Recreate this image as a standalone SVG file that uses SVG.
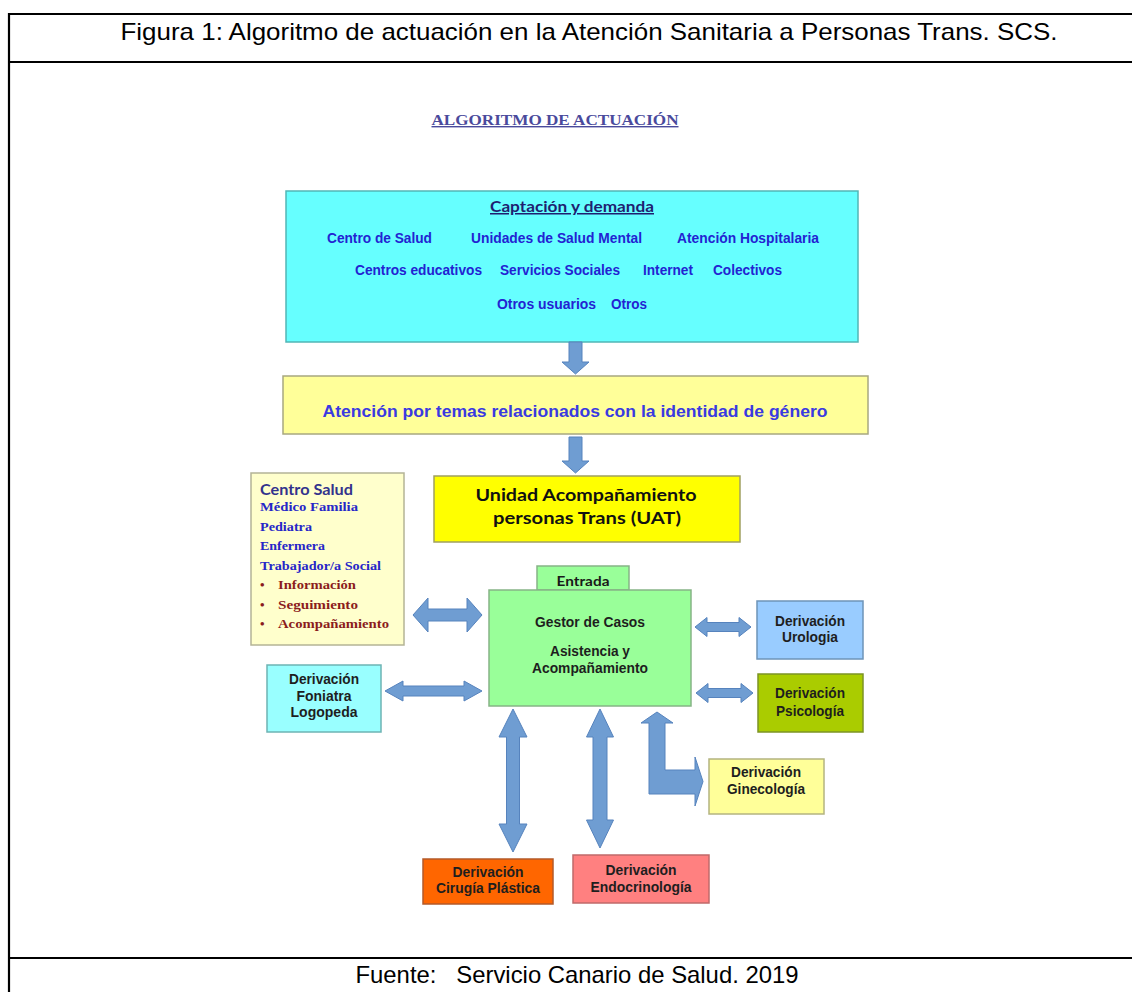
<svg xmlns="http://www.w3.org/2000/svg" width="1132" height="992" viewBox="0 0 1132 992">
<style>
.frame{stroke:#000;stroke-width:2.2;fill:none}
.cap{font-family:"Liberation Sans",Arial,sans-serif;font-size:24px;fill:#000;text-anchor:middle}
.box{stroke-width:1.5}
.arr{fill:#6f9dd2;stroke:#5683bd;stroke-width:1}
.cy{font-family:"Liberation Sans",Arial,sans-serif;font-weight:bold;font-size:14px;fill:#2323d2}
.dv{font-family:"Liberation Sans",Arial,sans-serif;font-weight:bold;font-size:14px;fill:#1e1e1e;text-anchor:middle}
.cal{font-family:Lato,"Liberation Sans",sans-serif;font-weight:bold}
.ser{font-family:"Liberation Serif","Times New Roman",serif;font-weight:bold;font-size:13px}
</style>
<rect x="0" y="0" width="1132" height="992" fill="#fff"/>
<g id="frame">
<line class="frame" x1="8" y1="14" x2="1132" y2="14"/>
<line class="frame" x1="8" y1="62" x2="1132" y2="62"/>
<line class="frame" x1="8" y1="958" x2="1132" y2="958"/>
<line class="frame" x1="9" y1="13" x2="9" y2="992"/>
<text class="cap" x="589" y="40" textLength="937" lengthAdjust="spacingAndGlyphs">Figura 1: Algoritmo de actuación en la Atención Sanitaria a Personas Trans. SCS.</text>
<text class="cap" x="577" y="983" textLength="443" lengthAdjust="spacingAndGlyphs" xml:space="preserve">Fuente:   Servicio Canario de Salud. 2019</text>
</g>
<g id="heading">
<text x="555" y="125" text-anchor="middle" font-family="Liberation Serif,serif" font-weight="bold" font-size="14" fill="#4a4a9c" text-decoration="underline" textLength="247" lengthAdjust="spacingAndGlyphs">ALGORITMO DE ACTUACIÓN</text>
</g>
<g id="captacion">
<rect class="box" x="286" y="191" width="572" height="151" fill="#66ffff" stroke="#52b6b6"/>
<text class="cal" x="572" y="212" font-size="15" fill="#1f1f70" text-anchor="middle" text-decoration="underline" textLength="164" lengthAdjust="spacingAndGlyphs">Captación y demanda</text>
<text class="cy" x="327" y="243" textLength="105" lengthAdjust="spacingAndGlyphs">Centro de Salud</text>
<text class="cy" x="471" y="243" textLength="171" lengthAdjust="spacingAndGlyphs">Unidades de Salud Mental</text>
<text class="cy" x="677" y="243" textLength="142" lengthAdjust="spacingAndGlyphs">Atención Hospitalaria</text>
<text class="cy" x="355" y="275" textLength="127" lengthAdjust="spacingAndGlyphs">Centros educativos</text>
<text class="cy" x="500" y="275" textLength="120" lengthAdjust="spacingAndGlyphs">Servicios Sociales</text>
<text class="cy" x="643" y="275" textLength="50" lengthAdjust="spacingAndGlyphs">Internet</text>
<text class="cy" x="713" y="275" textLength="69" lengthAdjust="spacingAndGlyphs">Colectivos</text>
<text class="cy" x="497" y="309" textLength="99" lengthAdjust="spacingAndGlyphs">Otros usuarios</text>
<text class="cy" x="611" y="309" textLength="36" lengthAdjust="spacingAndGlyphs">Otros</text>
</g>
<g id="atencion">
<rect class="box" x="283" y="376" width="585" height="58" fill="#ffff99" stroke="#a8a880"/>
<text x="575" y="417" text-anchor="middle" font-family="Liberation Sans,Arial,sans-serif" font-weight="bold" font-size="17" fill="#3a3ae0" textLength="505" lengthAdjust="spacingAndGlyphs">Atención por temas relacionados con la identidad de género</text>
</g>
<g id="uat">
<rect class="box" x="434" y="476" width="306" height="66" fill="#ffff00" stroke="#a0a060"/>
<text class="cal" x="586" y="501" font-size="17" fill="#111" text-anchor="middle" textLength="221" lengthAdjust="spacingAndGlyphs">Unidad Acompañamiento</text>
<text class="cal" x="587" y="524" font-size="17" fill="#111" text-anchor="middle" textLength="188" lengthAdjust="spacingAndGlyphs">personas Trans (UAT)</text>
</g>
<g id="centro-salud">
<rect class="box" x="251" y="473" width="153" height="172" fill="#ffffcc" stroke="#b4b496"/>
<text class="cal" x="260" y="495" font-size="15" fill="#33338c" textLength="93" lengthAdjust="spacingAndGlyphs">Centro Salud</text>
<text class="ser" x="260" y="511" fill="#2626c8" textLength="98" lengthAdjust="spacingAndGlyphs">Médico Familia</text>
<text class="ser" x="260" y="531" fill="#2626c8" textLength="52" lengthAdjust="spacingAndGlyphs">Pediatra</text>
<text class="ser" x="260" y="550" fill="#2626c8" textLength="65" lengthAdjust="spacingAndGlyphs">Enfermera</text>
<text class="ser" x="260" y="570" fill="#2626c8" textLength="121" lengthAdjust="spacingAndGlyphs">Trabajador/a Social</text>
<text class="ser" x="260" y="589" fill="#8b1c1c">•</text>
<text class="ser" x="278" y="589" fill="#8b1c1c" textLength="78" lengthAdjust="spacingAndGlyphs">Información</text>
<text class="ser" x="260" y="609" fill="#8b1c1c">•</text>
<text class="ser" x="278" y="609" fill="#8b1c1c" textLength="80" lengthAdjust="spacingAndGlyphs">Seguimiento</text>
<text class="ser" x="260" y="628" fill="#8b1c1c">•</text>
<text class="ser" x="278" y="628" fill="#8b1c1c" textLength="111" lengthAdjust="spacingAndGlyphs">Acompañamiento</text>
</g>
<g id="entrada">
<rect class="box" x="537" y="566" width="92" height="24" fill="#99ff99" stroke="#86b486"/>
<text class="cal" x="583" y="586" font-size="14" fill="#1a1a1a" text-anchor="middle" textLength="53" lengthAdjust="spacingAndGlyphs">Entrada</text>
</g>
<g id="gestor">
<rect class="box" x="489" y="590" width="202" height="116" fill="#99ff99" stroke="#86b486"/>
<text class="dv" x="590" y="627" textLength="110" lengthAdjust="spacingAndGlyphs">Gestor de Casos</text>
<text class="dv" x="590" y="656" textLength="80" lengthAdjust="spacingAndGlyphs">Asistencia y</text>
<text class="dv" x="590" y="673" textLength="116" lengthAdjust="spacingAndGlyphs">Acompañamiento</text>
</g>
<g id="urologia">
<rect class="box" x="757" y="601" width="106" height="58" fill="#99ccff" stroke="#6e94b8"/>
<text class="dv" x="810" y="626" textLength="70" lengthAdjust="spacingAndGlyphs">Derivación</text>
<text class="dv" x="810" y="642" textLength="56" lengthAdjust="spacingAndGlyphs">Urologia</text>
</g>
<g id="psicologia">
<rect class="box" x="758" y="674" width="105" height="58" fill="#aacc00" stroke="#7c9424"/>
<text class="dv" x="810" y="698" textLength="70" lengthAdjust="spacingAndGlyphs">Derivación</text>
<text class="dv" x="810" y="716" textLength="68" lengthAdjust="spacingAndGlyphs">Psicología</text>
</g>
<g id="foniatra">
<rect class="box" x="267" y="665" width="114" height="67" fill="#99ffff" stroke="#6eb4b4"/>
<text class="dv" x="324" y="684" textLength="70" lengthAdjust="spacingAndGlyphs">Derivación</text>
<text class="dv" x="324" y="701" textLength="55" lengthAdjust="spacingAndGlyphs">Foniatra</text>
<text class="dv" x="324" y="717" textLength="67" lengthAdjust="spacingAndGlyphs">Logopeda</text>
</g>
<g id="ginecologia">
<rect class="box" x="709" y="759" width="115" height="55" fill="#ffff99" stroke="#b4b480"/>
<text class="dv" x="766" y="777" textLength="70" lengthAdjust="spacingAndGlyphs">Derivación</text>
<text class="dv" x="766" y="794" textLength="78" lengthAdjust="spacingAndGlyphs">Ginecología</text>
</g>
<g id="cirugia">
<rect class="box" x="423" y="859" width="130" height="45" fill="#ff6600" stroke="#b45a28"/>
<text class="dv" x="488" y="877" textLength="71" lengthAdjust="spacingAndGlyphs">Derivación</text>
<text class="dv" x="488" y="893" textLength="104" lengthAdjust="spacingAndGlyphs">Cirugía Plástica</text>
</g>
<g id="endocrinologia">
<rect class="box" x="573" y="855" width="136" height="48" fill="#ff8080" stroke="#c06a6a"/>
<text class="dv" x="641" y="875" textLength="71" lengthAdjust="spacingAndGlyphs">Derivación</text>
<text class="dv" x="641" y="892" textLength="101" lengthAdjust="spacingAndGlyphs">Endocrinología</text>
</g>
<g id="connectors">
<polygon class="arr" points="569,342 582,342 582,362 589,362 575.5,374 562,362 569,362"/>
<polygon class="arr" points="569,437 582,437 582,461 589,461 575.5,473 562,461 569,461"/>
<polygon class="arr" points="413,615 428,598 428,609 467,609 467,598 482,615 467,632 467,621 428,621 428,632"/>
<polygon class="arr" points="385,691 403,681 403,686 464,686 464,681 482,691 464,701 464,696 403,696 403,701"/>
<polygon class="arr" points="695,627 707,617.5 707,622.5 739,622.5 739,617.5 751,627 739,636.5 739,631.5 707,631.5 707,636.5"/>
<polygon class="arr" points="696,693 708,683.5 708,688.5 741,688.5 741,683.5 753,693 741,702.5 741,697.5 708,697.5 708,702.5"/>
<polygon class="arr" points="513,709 527,737 519.5,737 519.5,824 527,824 513,852 499,824 506.5,824 506.5,737 499,737"/>
<polygon class="arr" points="600,709 613.5,737 607,737 607,820 613.5,820 600,848 586.5,820 593,820 593,737 586.5,737"/>
<polygon class="arr" points="657,712 673,723 665,723 665,770 695,770 695,757 703,781.5 695,806 695,794 649,794 649,723 641,723"/>
</g>
</svg>
